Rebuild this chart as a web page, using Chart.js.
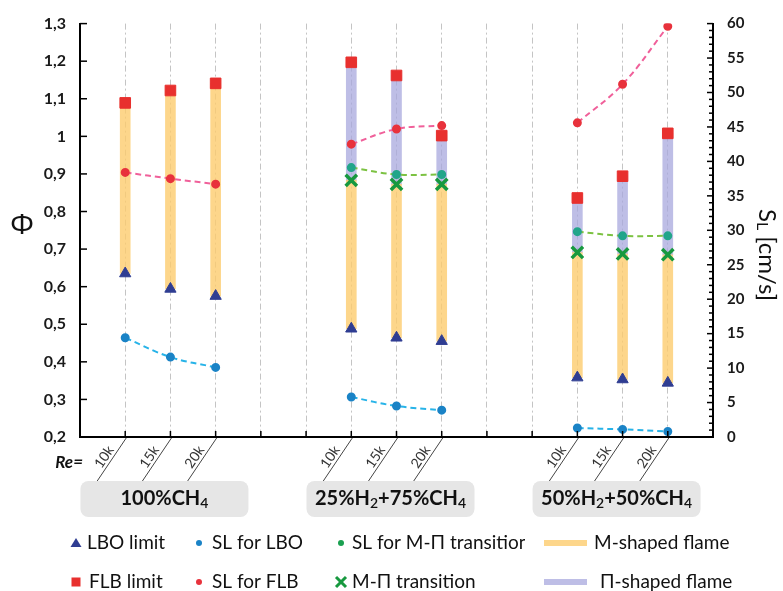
<!DOCTYPE html>
<html>
<head>
<meta charset="utf-8">
<script src="https://cdn.jsdelivr.net/npm/chart.js@4"></script>
<style>
body { margin: 0; background: #fff; }
#wrap { width: 783px; height: 591px; }
</style>
</head>
<body>
<div id="wrap"><canvas id="chart" width="783" height="591"></canvas></div>
<script>
// fuel mixtures and Reynolds numbers on the x axis
var groupNames = ['100%CH4', '25%H2+75%CH4', '50%H2+50%CH4'];
var reLabels = ['10k', '15k', '20k', '10k', '15k', '20k', '10k', '15k', '20k'];
// category slot (0..14) of each run
var slots = [1, 2, 3, 6, 7, 8, 11, 12, 13];

// equivalence ratio, left axis
var lboLimit = [0.635, 0.594, 0.575, 0.488, 0.464, 0.455, 0.358, 0.353, 0.344];
var flbLimit = [1.089, 1.122, 1.141, 1.197, 1.162, 1.002, 0.836, 0.894, 1.008];
var mpTransition = [null, null, null, 0.883, 0.872, 0.872, 0.691, 0.687, 0.685];

// laminar flame speed SL [cm/s], right axis
var slLbo = [14.4, 11.6, 10.1, 5.8, 4.5, 3.9, 1.3, 1.1, 0.8];
var slFlb = [38.4, 37.5, 36.7, 42.5, 44.7, 45.2, 45.6, 51.2, 59.6];
var slMp = [null, null, null, 39.1, 38.1, 38.1, 29.8, 29.2, 29.2];

var FONT = "Lato, 'Noto Sans', sans-serif";

function points(values) {
    var out = [];
    for (var i = 0; i < values.length; i++) {
        if (i > 0 && i % 3 == 0) out.push({x: slots[i] - 1.5, y: null});
        if (values[i] !== null) out.push({x: slots[i], y: values[i]});
    }
    return out;
}

var mBars = [], piBars = [];
for (var i = 0; i < slots.length; i++) {
    var barTop = mpTransition[i] !== null ? mpTransition[i] : flbLimit[i];
    mBars.push({x: slots[i], y: [lboLimit[i], barTop]});
    if (mpTransition[i] !== null) piBars.push({x: slots[i], y: [mpTransition[i], flbLimit[i]]});
}

function marker(label, values, style, color, radius, order) {
    return {
        type: 'line', label: label, data: points(values), yAxisID: 'y',
        showLine: false, pointStyle: style, pointRadius: radius,
        pointBackgroundColor: color, pointBorderColor: color, pointBorderWidth: 1,
        order: order
    };
}

function speedLine(label, values, lineColor, dotColor) {
    return {
        type: 'line', label: label, data: points(values), yAxisID: 'y2',
        borderColor: lineColor, borderWidth: 2, borderDash: [6, 4], tension: 0.4,
        pointRadius: 3.5, pointBackgroundColor: dotColor, pointBorderColor: dotColor,
        order: 2
    };
}

var transition = marker('M-Π transition', mpTransition, 'crossRot', '#17993f', 8, 1);
transition.pointBorderWidth = 3.5;

var datasets = [
    marker('LBO limit', lboLimit, 'triangle', '#2f3d92', 6.5, 1),
    marker('FLB limit', flbLimit, 'rect', '#e8302e', 7.5, 1),
    transition,
    speedLine('SL for LBO', slLbo, '#27b3e8', '#1a83c6'),
    speedLine('SL for FLB', slFlb, '#f0609a', '#e8323c'),
    speedLine('SL for M-Π transition', slMp, '#7cc242', '#22a58a'),
    {type: 'bar', label: 'M-shaped flame', data: mBars, yAxisID: 'y', grouped: false,
     barThickness: 10, backgroundColor: 'rgba(252,204,110,0.8)', order: 10},
    {type: 'bar', label: 'Π-shaped flame', data: piBars, yAxisID: 'y', grouped: false,
     barThickness: 10, backgroundColor: 'rgba(168,168,222,0.75)', order: 10}
];

function chemSegments(text) {
    var segs = [];
    for (var i = 0; i < text.length; i++) {
        var ch = text[i];
        var sub = /\d/.test(ch) && i > 0 && /[A-Z]/.test(text[i - 1]);
        if (segs.length && segs[segs.length - 1].sub === sub) segs[segs.length - 1].t += ch;
        else segs.push({t: ch, sub: sub});
    }
    return segs;
}

function drawRich(ctx, segs, cx, cy, mainFont, subFont, subShift) {
    var w = 0;
    segs.forEach(function(s) { ctx.font = s.sub ? subFont : mainFont; w += ctx.measureText(s.t).width; });
    var x = cx - w / 2;
    ctx.textAlign = 'left';
    ctx.textBaseline = 'middle';
    segs.forEach(function(s) {
        ctx.font = s.sub ? subFont : mainFont;
        ctx.fillText(s.t, x, cy + (s.sub ? subShift : 0));
        x += ctx.measureText(s.t).width;
    });
}

function roundRect(ctx, x, y, w, h, r) {
    ctx.beginPath();
    ctx.moveTo(x + r, y);
    ctx.arcTo(x + w, y, x + w, y + h, r);
    ctx.arcTo(x + w, y + h, x, y + h, r);
    ctx.arcTo(x, y + h, x, y, r);
    ctx.arcTo(x, y, x + w, y, r);
    ctx.closePath();
}

function seg(ctx, x1, y1, x2, y2) {
    ctx.beginPath(); ctx.moveTo(x1, y1); ctx.lineTo(x2, y2); ctx.stroke();
}

function legendMark(ctx, kind, x, y, color) {
    ctx.fillStyle = color; ctx.strokeStyle = color;
    if (kind == 'triangle') {
        ctx.beginPath(); ctx.moveTo(x, y - 5); ctx.lineTo(x + 5.5, y + 4); ctx.lineTo(x - 5.5, y + 4); ctx.closePath(); ctx.fill();
    } else if (kind == 'rect') {
        ctx.fillRect(x - 4.5, y - 4.5, 9, 9);
    } else if (kind == 'dot') {
        ctx.beginPath(); ctx.arc(x, y, 3, 0, Math.PI * 2); ctx.fill();
    } else if (kind == 'cross') {
        ctx.lineWidth = 3;
        seg(ctx, x - 5, y - 5, x + 5, y + 5); seg(ctx, x - 5, y + 5, x + 5, y - 5);
    } else if (kind == 'band') {
        ctx.fillRect(x - 22, y - 3, 43, 6);
    }
}

var decor = {
    id: 'decor',
    afterDraw: function(chart) {
        var ctx = chart.ctx, area = chart.chartArea;
        var xs = chart.scales.x, yl = chart.scales.y, yr = chart.scales.y2;
        ctx.save();

        // inner tick marks
        ctx.strokeStyle = '#000'; ctx.lineWidth = 1.5;
        yl.ticks.forEach(function(t) {
            var py = yl.getPixelForValue(t.value); seg(ctx, area.left, py, area.left + 7, py);
        });
        for (var v = 0; v <= 60; v++) {
            var py = yr.getPixelForValue(v);
            seg(ctx, area.right - (v % 5 == 0 ? 6 : 4), py, area.right, py);
        }
        xs.ticks.forEach(function(t) {
            var px = xs.getPixelForValue(t.value); seg(ctx, px, area.bottom, px, area.bottom - 6);
        });

        // Re labels with slanted leader lines
        ctx.lineWidth = 1; ctx.strokeStyle = '#444';
        ctx.fillStyle = '#333';
        reLabels.forEach(function(lab, i) {
            var px = xs.getPixelForValue(slots[i]);
            seg(ctx, px + 1, area.bottom + 1, px - 28, area.bottom + 44);
            ctx.save();
            ctx.translate(px - 21, area.bottom + 20);
            ctx.rotate(-56 * Math.PI / 180);
            ctx.font = '14px ' + FONT; ctx.textAlign = 'center'; ctx.textBaseline = 'middle';
            ctx.fillText(lab, 0, 0);
            ctx.restore();
        });
        ctx.font = 'italic bold 17px ' + FONT; ctx.fillStyle = '#111';
        ctx.textAlign = 'right'; ctx.textBaseline = 'middle';
        ctx.fillText('Re=', 83, area.bottom + 26);

        // mixture boxes
        groupNames.forEach(function(name, g) {
            var cx = xs.getPixelForValue(slots[g * 3 + 1]) - 6;
            ctx.fillStyle = '#e6e6e6';
            roundRect(ctx, cx - 84, area.bottom + 44, 168, 36, 8);
            ctx.fill();
            ctx.fillStyle = '#111';
            drawRich(ctx, chemSegments(name), cx, area.bottom + 62, 'bold 20px ' + FONT, '600 14px ' + FONT, 4);
        });

        // axis titles
        ctx.fillStyle = '#111';
        ctx.font = "28px 'Noto Sans', sans-serif"; ctx.textAlign = 'center'; ctx.textBaseline = 'middle';
        ctx.fillText('Φ', 22, 226);
        ctx.save();
        ctx.translate(767, 255);
        ctx.rotate(Math.PI / 2);
        drawRich(ctx, [{t: 'S', sub: false}, {t: 'L', sub: true}, {t: ' [cm/s]', sub: false}], 0, 0,
            '24px ' + FONT, '16px ' + FONT, 5);
        ctx.restore();

        // legend
        var ds = chart.data.datasets;
        var items = [
            [ds[0], 'triangle', 76, 87, 543], [ds[3], 'dot', 199, 212, 543],
            [ds[5], 'dot', 341, 352, 543], [ds[6], 'band', 566, 594, 543],
            [ds[1], 'rect', 76, 89, 582], [ds[4], 'dot', 199, 212, 582],
            [ds[2], 'cross', 341, 352, 582], [ds[7], 'band', 566, 600, 582]
        ];
        items.forEach(function(it) {
            var d = it[0], color;
            if (it[1] == 'band') color = d.backgroundColor;
            else color = d.pointBorderColor;
            if (d.label == 'SL for M-Π transition') color = '#1aa050';
            legendMark(ctx, it[1], it[2], it[4], color);
            ctx.save();
            if (d.label == 'SL for M-Π transition') { ctx.beginPath(); ctx.rect(0, 520, 525, 50); ctx.clip(); }
            ctx.fillStyle = '#111'; ctx.font = '19px ' + FONT;
            ctx.textAlign = 'left'; ctx.textBaseline = 'middle';
            ctx.fillText(d.label, it[3], it[4]);
            ctx.restore();
        });
        ctx.restore();
    }
};

new Chart(document.getElementById('chart').getContext('2d'), {
    type: 'line',
    data: {datasets: datasets},
    options: {
        responsive: false,
        animation: false,
        events: [],
        layout: {padding: {top: 23, left: 0, right: 0, bottom: 0}},
        plugins: {legend: {display: false}, tooltip: {enabled: false}},
        scales: {
            x: {
                type: 'linear', min: 0, max: 14, offset: false,
                afterFit: function(s) { s.height = 154; },
                ticks: {stepSize: 1, maxTicksLimit: 20, display: false},
                grid: {color: '#c4c4c4', lineWidth: 1, drawTicks: false, offset: false},
                border: {color: '#000', width: 2, dash: [6, 3, 2, 3]}
            },
            y: {
                position: 'left', min: 0.2, max: 1.3,
                afterFit: function(s) { s.width = 80; },
                ticks: {
                    stepSize: 0.1, maxTicksLimit: 20, padding: 14, color: '#1a1a1a',
                    font: {family: FONT, weight: 'bold', size: 16},
                    callback: function(v) { return String(Math.round(v * 10) / 10).replace('.', ','); }
                },
                grid: {drawOnChartArea: false, drawTicks: false},
                border: {color: '#000', width: 2}
            },
            y2: {
                position: 'right', min: 0, max: 60,
                afterFit: function(s) { s.width = 70; },
                ticks: {
                    stepSize: 5, maxTicksLimit: 20, padding: 14, color: '#1a1a1a',
                    font: {family: FONT, weight: 'bold', size: 15}
                },
                grid: {drawOnChartArea: false, drawTicks: false},
                border: {color: '#000', width: 2}
            }
        }
    },
    plugins: [decor]
});
</script>
</body>
</html>
